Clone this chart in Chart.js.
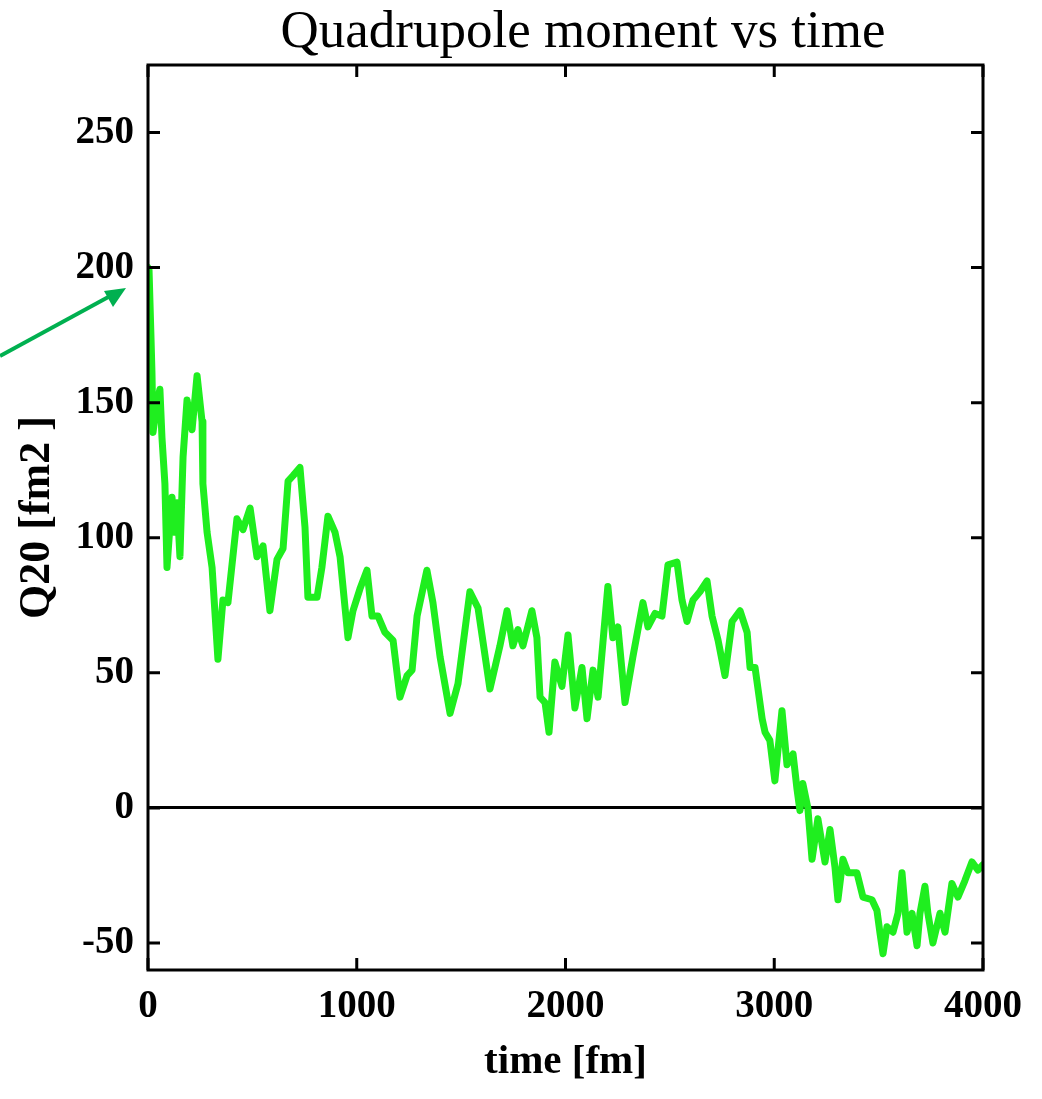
<!DOCTYPE html>
<html>
<head>
<meta charset="utf-8">
<script src="https://cdn.jsdelivr.net/npm/chart.js@4/dist/chart.umd.min.js"></script>
<style>
  html, body { margin: 0; padding: 0; background: #fff; }
  #wrap { width: 1042px; height: 1099px; }
</style>
</head>
<body>
<div id="wrap"><canvas id="q20Chart"></canvas></div>
<script>
// time [fm]
var timeFm = [0, 5, 14, 19, 24, 43, 57, 67, 81, 91, 115, 129, 139, 153, 168, 187, 211, 235, 259, 263,
  283, 307, 335, 359, 383, 426, 455, 489, 522, 551, 584, 618, 647, 671, 695, 728, 752, 766, 810, 833,
  862, 896, 920, 958, 982, 1015, 1049, 1073, 1102, 1135, 1174, 1207, 1241, 1265, 1289, 1336, 1365, 1399, 1447, 1485,
  1542, 1581, 1638, 1686, 1720, 1748, 1772, 1796, 1839, 1863, 1878, 1902, 1921, 1949, 1983, 2012, 2045, 2079, 2103, 2132,
  2156, 2179, 2203, 2227, 2251, 2285, 2323, 2371, 2395, 2429, 2462, 2491, 2534, 2558, 2582, 2611, 2644, 2678, 2702, 2731,
  2764, 2798, 2836, 2870, 2884, 2908, 2942, 2956, 2979, 3003, 3037, 3061, 3090, 3109, 3123, 3137, 3161, 3181, 3209, 3243,
  3267, 3291, 3305, 3329, 3353, 3396, 3425, 3468, 3492, 3506, 3521, 3540, 3569, 3593, 3612, 3636, 3660, 3684, 3698, 3722,
  3736, 3760, 3794, 3818, 3851, 3880, 3913, 3947, 3976, 4000];

// Q20 [fm2]
var q20 = [200, 199, 175, 161, 139, 150, 155, 137, 120, 89, 115, 102, 113, 93, 130, 151, 140, 160, 143, 120,
  102, 89, 55, 77, 76, 107, 103, 111, 93, 97, 73, 92, 96, 121, 123, 126, 104, 78, 78, 89,
  108, 102, 93, 63, 73, 81, 88, 71, 71, 65, 62, 41, 49, 51, 71, 88, 76, 56, 35, 46,
  80, 74, 44, 60, 73, 60, 66, 60, 73, 63, 41, 39, 28, 54, 45, 64, 37, 52, 33, 51,
  41, 61, 82, 63, 67, 39, 56, 76, 67, 72, 71, 90, 91, 77, 69, 77, 80, 84, 71, 62,
  49, 69, 73, 65, 52, 52, 33, 28, 25, 10, 36, 16, 20, 7, -1, 9, 0, -19, -4, -20,
  -8, -22, -34, -19, -24, -24, -33, -34, -38, -46, -54, -44, -46, -39, -24, -46, -39, -51, -39, -29,
  -39, -50, -39, -46, -28, -33, -27, -20, -23, -21];

var xTicks = [0, 1000, 2000, 3000, 4000];
var yTicks = [-50, 0, 50, 100, 150, 200, 250];

var serif = "'Liberation Serif', 'Times New Roman', serif";

// рамка, внутренние засечки, заголовок и стрелка
var framePlugin = {
  id: 'frame',
  afterDatasetsDraw: function (chart) {
    var ctx = chart.ctx, a = chart.chartArea;
    var xs = chart.scales.x, ys = chart.scales.y;
    ctx.save();
    ctx.strokeStyle = '#000';
    ctx.lineWidth = 3;
    ctx.strokeRect(a.left, a.top, a.right - a.left, a.bottom - a.top);
    ctx.beginPath();
    xTicks.forEach(function (v) {
      var px = xs.getPixelForValue(v);
      ctx.moveTo(px, a.bottom); ctx.lineTo(px, a.bottom - 12);
      ctx.moveTo(px, a.top); ctx.lineTo(px, a.top + 12);
    });
    yTicks.forEach(function (v) {
      var py = ys.getPixelForValue(v);
      ctx.moveTo(a.left, py); ctx.lineTo(a.left + 12, py);
      ctx.moveTo(a.right, py); ctx.lineTo(a.right - 12, py);
    });
    ctx.stroke();

    // заголовок
    ctx.fillStyle = '#000';
    ctx.font = '53px ' + serif;
    ctx.textAlign = 'center';
    ctx.textBaseline = 'alphabetic';
    ctx.fillText('Quadrupole moment vs time', 583, 47);

    // зелёная стрелка
    ctx.strokeStyle = '#00b050';
    ctx.fillStyle = '#00b050';
    ctx.lineWidth = 4;
    ctx.beginPath();
    ctx.moveTo(0, 356);
    ctx.lineTo(112, 295);
    ctx.stroke();
    ctx.beginPath();
    ctx.moveTo(126, 288);
    ctx.lineTo(104, 291);
    ctx.lineTo(113, 307);
    ctx.closePath();
    ctx.fill();
    ctx.restore();
  }
};

var points = timeFm.map(function (t, i) { return { x: t, y: q20[i] }; });

var q20Chart = new Chart(document.getElementById('q20Chart').getContext('2d'), {
  type: 'line',
  data: {
    datasets: [{
      data: points,
      borderColor: '#1fee1f',
      borderWidth: 7,
      pointRadius: 0,
      tension: 0,
      borderJoinStyle: 'round',
      borderCapStyle: 'round'
    }]
  },
  options: {
    responsive: true,
    maintainAspectRatio: false,
    animation: false,
    layout: { padding: { top: 65, right: 59, left: 0, bottom: 0 } },
    plugins: {
      legend: { display: false },
      tooltip: { enabled: false }
    },
    scales: {
      x: {
        type: 'linear',
        min: 0,
        max: 4000,
        afterBuildTicks: function (s) { s.ticks = xTicks.map(function (v) { return { value: v }; }); },
        afterFit: function (s) { s.height = 129; },
        grid: { display: false },
        border: { display: false },
        ticks: {
          color: '#000',
          padding: 6,
          maxRotation: 0,
          font: { family: serif, size: 39, weight: 'bold' },
          callback: function (v) { return String(v); }
        },
        title: {
          display: true,
          text: 'time [fm]',
          color: '#000',
          padding: { top: 0, bottom: 12 },
          font: { family: serif, size: 41, weight: 'bold' }
        }
      },
      y: {
        type: 'linear',
        min: -60,
        max: 275,
        afterBuildTicks: function (s) { s.ticks = yTicks.map(function (v) { return { value: v }; }); },
        afterFit: function (s) { s.width = 148; },
        grid: {
          drawTicks: false,
          lineWidth: 3,
          color: function (c) { return c.tick && c.tick.value === 0 ? '#000' : 'rgba(0,0,0,0)'; }
        },
        border: { display: false },
        ticks: {
          color: '#000',
          padding: 14,
          font: { family: serif, size: 39, weight: 'bold' },
          callback: function (v) { return String(v); }
        },
        title: {
          display: true,
          text: 'Q20 [fm2 ]',
          color: '#000',
          padding: { top: 11, bottom: 0 },
          font: { family: serif, size: 44, weight: 'bold' }
        }
      }
    }
  },
  plugins: [framePlugin]
});
</script>
</body>
</html>
